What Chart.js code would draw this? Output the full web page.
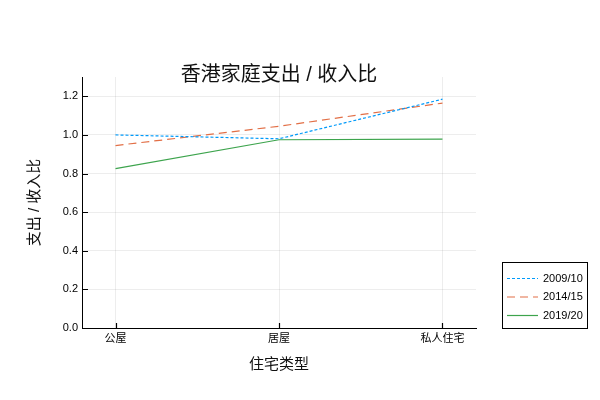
<!DOCTYPE html>
<html>
<head>
<meta charset="utf-8">
<script src="https://cdn.jsdelivr.net/npm/chart.js@4/dist/chart.umd.min.js"></script>
<style>
	body { margin: 0; background: #fff; }
	canvas { display: block; }
</style>
</head>
<body>
<canvas id="myChart" width="600" height="400"></canvas>
<script>
let categories = ['公屋', '居屋', '私人住宅']
let seriesNames = ['2009/10', '2014/15', '2019/20']
let s2009 = [1.00, 0.98, 1.185]
let s2014 = [0.945, 1.045, 1.165]
let s2019 = [0.825, 0.975, 0.978]
let yTicks = [0.0, 0.2, 0.4, 0.6, 0.8, 1.0, 1.2]

let fontFam = '"Liberation Sans", "Noto Sans CJK SC", sans-serif'

let toPoints = arr => arr.map((v, i) => ({ x: i, y: v }))

// short ticks pointing into the plot, like the original
let innerTicks = {
	id: 'innerTicks',
	afterDatasetsDraw: chart => {
		let ctx = chart.ctx
		let a = chart.chartArea
		let xs = chart.scales.x, ys = chart.scales.y
		ctx.save()
		ctx.strokeStyle = '#000'
		ctx.lineWidth = 1.2
		ctx.beginPath()
		xs.ticks.forEach(t => {
			let px = Math.round(xs.getPixelForValue(t.value)) + 0.5
			ctx.moveTo(px, a.bottom)
			ctx.lineTo(px, a.bottom - 5)
		})
		ys.ticks.forEach(t => {
			let py = Math.round(ys.getPixelForValue(t.value)) + 0.5
			ctx.moveTo(a.left, py)
			ctx.lineTo(a.left + 6, py)
		})
		ctx.stroke()
		ctx.restore()
	}
}

// boxed legend in the lower right
let boxLegend = {
	id: 'boxLegend',
	afterDraw: chart => {
		let ctx = chart.ctx
		let bx = 502, by = 262, bw = 85, bh = 66
		ctx.save()
		ctx.fillStyle = '#fff'
		ctx.fillRect(bx, by, bw, bh)
		ctx.strokeStyle = '#000'
		ctx.lineWidth = 1
		ctx.strokeRect(bx + 0.5, by + 0.5, bw, bh)
		ctx.font = '11px ' + fontFam
		ctx.textBaseline = 'middle'
		chart.data.datasets.forEach((ds, i) => {
			let y = by + 16.5 + i * 18.5
			ctx.strokeStyle = ds.borderColor
			ctx.lineWidth = ds.borderWidth
			ctx.setLineDash(ds.borderDash || [])
			ctx.beginPath()
			ctx.moveTo(bx + 5, y)
			ctx.lineTo(bx + 36, y)
			ctx.stroke()
			ctx.setLineDash([])
			ctx.fillStyle = '#000'
			ctx.fillText(ds.label, bx + 41, y)
		})
		ctx.restore()
	}
}

let ctx1 = document.getElementById('myChart')
let myLineChart = new Chart(ctx1, {
	type: 'line',
	data: {
		datasets: [
			{
				label: seriesNames[0],
				data: toPoints(s2009),
				borderColor: '#009AFA',
				borderWidth: 1.2,
				borderDash: [3, 2],
				pointRadius: 0,
				fill: false
			},
			{
				label: seriesNames[1],
				data: toPoints(s2014),
				borderColor: '#E26F46',
				borderWidth: 1.2,
				borderDash: [8, 5],
				pointRadius: 0,
				fill: false
			},
			{
				label: seriesNames[2],
				data: toPoints(s2019),
				borderColor: '#3DA44D',
				borderWidth: 1.2,
				pointRadius: 0,
				fill: false
			}
		]
	},
	options: {
		responsive: false,
		animation: false,
		devicePixelRatio: 1,
		layout: { padding: { left: 18, right: 124, top: 0, bottom: 17 } },
		plugins: {
			legend: { display: false },
			tooltip: { enabled: false },
			title: {
				display: true,
				fullSize: false,
				text: '香港家庭支出 / 收入比',
				color: '#111',
				font: { family: fontFam, size: 20, weight: 'normal', lineHeight: 1.2 },
				padding: { top: 63, bottom: -10 }
			}
		},
		scales: {
			x: {
				type: 'linear',
				min: -0.205,
				max: 2.205,
				afterBuildTicks: s => { s.ticks = categories.map((c, i) => ({ value: i })) },
				afterFit: s => { s.height = 55 },
				ticks: {
					padding: 4,
					color: '#000',
					font: { family: fontFam, size: 11 },
					callback: v => categories[v]
				},
				grid: { color: 'rgba(0,0,0,0.07)', lineWidth: 1, drawTicks: false },
				border: { display: true, color: '#000', width: 1 },
				title: {
					display: true,
					text: '住宅类型',
					color: '#111',
					font: { family: fontFam, size: 15 },
					padding: { top: 0, bottom: 9.6 }
				}
			},
			y: {
				min: 0,
				max: 1.3,
				afterBuildTicks: s => { s.ticks = yTicks.map(v => ({ value: v })) },
				afterFit: s => { s.width = 64 },
				ticks: {
					padding: 4,
					color: '#000',
					font: { family: fontFam, size: 11 },
					callback: v => v.toFixed(1)
				},
				grid: { color: 'rgba(0,0,0,0.07)', lineWidth: 1, drawTicks: false },
				border: { display: true, color: '#000', width: 1 },
				title: {
					display: true,
					text: '支出 / 收入比',
					color: '#111',
					font: { family: fontFam, size: 15 },
					padding: { top: 8, bottom: 0 }
				}
			}
		}
	},
	plugins: [innerTicks, boxLegend]
})
</script>
</body>
</html>
